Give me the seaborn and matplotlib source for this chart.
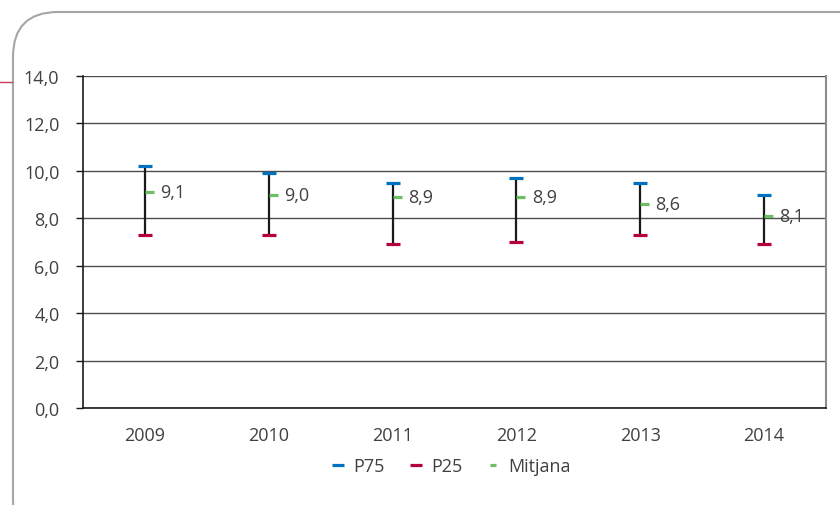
import numpy as np
import pandas as pd
import matplotlib
import matplotlib.pyplot as plt
import seaborn as sns
from matplotlib.path import Path
from matplotlib.patches import FancyBboxPatch
from matplotlib.lines import Line2D
from matplotlib.transforms import IdentityTransform

years = ['2009', '2010', '2011', '2012', '2013', '2014']
p75 = [10.2, 9.9, 9.5, 9.7, 9.5, 9.0]
p25 = [7.3, 7.3, 6.9, 7.0, 7.3, 6.9]
mitjana = [9.1, 9.0, 8.9, 8.9, 8.6, 8.1]

df = pd.DataFrame({'year': years, 'P75': p75, 'P25': p25, 'Mitjana': mitjana})

sns.set_style('white')
plt.rcParams['font.family'] = ['Open Sans', 'DejaVu Sans']
text_col = '#404040'
blue, red, green = '#0070C0', '#B5003C', '#6CC063'

fig = plt.figure(figsize=(8.4, 5.06), dpi=100)
ax = fig.add_axes([83 / 840, 1 - 409 / 506, (826 - 83) / 840, (409 - 77) / 506])

# high-low lines
ax.vlines(np.arange(len(years)), df['P25'], df['P75'], color='#1a1a1a', lw=1.6, zorder=2)

right_dash = Path([(0, 0), (1, 0)], [Path.MOVETO, Path.LINETO])
sns.scatterplot(data=df, x='year', y='P75', marker='_', s=95, color=blue,
                linewidth=2.3, ax=ax, zorder=3)
sns.scatterplot(data=df, x='year', y='P25', marker='_', s=95, color=red,
                linewidth=2.3, ax=ax, zorder=3)
sns.scatterplot(data=df, x='year', y='Mitjana', marker=right_dash, s=170,
                color=green, edgecolor=green, facecolor='none', linewidth=2.3, ax=ax, zorder=4)

for i, v in enumerate(mitjana):
    ax.annotate(f'{v:.1f}'.replace('.', ','), (i, v), xytext=(11, 0),
                textcoords='offset points', va='center', ha='left',
                fontsize=13, color=text_col)

ax.set_xlim(-0.5, len(years) - 0.5)
ax.set_ylim(0, 14)
ax.set_yticks(np.arange(0, 14.1, 2))
ax.set_yticklabels([f'{v:.1f}'.replace('.', ',') for v in np.arange(0, 14.1, 2)])
ax.set_xticks(range(len(years)))
ax.set_xticklabels(years)
ax.set_xticks(np.arange(-0.5, len(years), 1), minor=True)
ax.tick_params(axis='x', which='major', length=0, pad=13, labelsize=13, colors=text_col)
ax.tick_params(axis='x', which='minor', length=4, width=1, color='#1a1a1a', direction='out')
ax.tick_params(axis='y', length=5, width=1, color='#1a1a1a', pad=12, labelsize=13,
               labelcolor=text_col, left=True)
ax.set_xlabel('')
ax.set_ylabel('')
ax.grid(axis='y', color='#4d4d4d', lw=1)
ax.set_axisbelow(True)
for s in ['left', 'bottom']:
    ax.spines[s].set_color('#1a1a1a')
    ax.spines[s].set_linewidth(1.2)
ax.spines['top'].set_visible(False)
ax.spines['right'].set_color('#8c8c8c')
ax.spines['right'].set_linewidth(1.5)

handles = [Line2D([], [], ls='', marker='_', ms=8, mew=2.3, color=blue),
           Line2D([], [], ls='', marker='_', ms=8, mew=2.3, color=red),
           Line2D([], [], ls='', marker='_', ms=5, mew=2.3, color=green, mec=green)]
fig.legend(handles, ['P75', 'P25', 'Mitjana'], loc='center', bbox_to_anchor=(451 / 840, 1 - 467 / 506),
           ncol=3, frameon=False, fontsize=13, handlelength=0.8, handletextpad=0.45,
           columnspacing=1.3, labelcolor=text_col)

# rounded frame and small accent line
frame = FancyBboxPatch((13, -40), 880, 506 - 13 + 40, boxstyle='round,pad=0,rounding_size=45',
                       transform=IdentityTransform(), facecolor='none', edgecolor='#a6a6a6',
                       lw=1.5, zorder=-1)
fig.patches.append(frame)
fig.add_artist(Line2D([0, 12], [506 - 83, 506 - 83], transform=IdentityTransform(),
                      color='#c8385a', lw=1))

fig.savefig('out.png', dpi=100)
